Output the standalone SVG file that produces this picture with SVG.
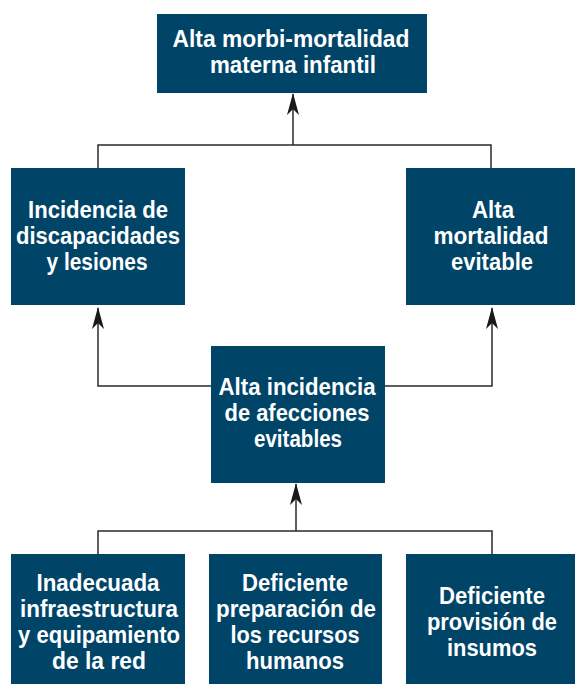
<svg xmlns="http://www.w3.org/2000/svg" width="575" height="684" viewBox="0 0 575 684">
<defs>
<marker id="ah" viewBox="0 0 22 12" refX="21" refY="6" markerWidth="22" markerHeight="12" markerUnits="userSpaceOnUse" orient="auto">
<path d="M0,0 L22,6 L0,12 L6,6 Z" fill="#1a1a1a"/>
</marker>
</defs>
<style>
.box{fill:#004468}
.t{fill:#fff;font-family:"Liberation Sans",Arial,sans-serif;font-weight:bold;font-size:23px;text-anchor:middle}
.c{fill:none;stroke:#2a2a2a;stroke-width:1.5}
</style>
<rect width="575" height="684" fill="#fff"/>
<g id="connectors">
<polyline class="c" points="98,168 98,145 491,145 491,168"/>
<line class="c" x1="293" y1="145" x2="293" y2="94" marker-end="url(#ah)"/>
<polyline class="c" points="211,386 98,386 98,308" marker-end="url(#ah)"/>
<polyline class="c" points="385,386 492,386 492,308" marker-end="url(#ah)"/>
<polyline class="c" points="98,554 98,531 492,531 492,554"/>
<line class="c" x1="296" y1="531" x2="296" y2="484" marker-end="url(#ah)"/>
</g>
<g id="n_top">
<rect class="box" x="157" y="14" width="270" height="79"/>
<text class="t" x="291" y="47" textLength="237" lengthAdjust="spacingAndGlyphs">Alta morbi-mortalidad</text>
<text class="t" x="293" y="73" textLength="166" lengthAdjust="spacingAndGlyphs">materna infantil</text>
</g>
<g id="n_left">
<rect class="box" x="11" y="168" width="174" height="137"/>
<text class="t" x="98" y="218" textLength="140" lengthAdjust="spacingAndGlyphs">Incidencia de</text>
<text class="t" x="98" y="244" textLength="164" lengthAdjust="spacingAndGlyphs">discapacidades</text>
<text class="t" x="97" y="270" textLength="101" lengthAdjust="spacingAndGlyphs">y lesiones</text>
</g>
<g id="n_right">
<rect class="box" x="406" y="168" width="169" height="137"/>
<text class="t" x="493" y="218" textLength="42" lengthAdjust="spacingAndGlyphs">Alta</text>
<text class="t" x="491" y="244" textLength="115" lengthAdjust="spacingAndGlyphs">mortalidad</text>
<text class="t" x="492" y="270" textLength="82" lengthAdjust="spacingAndGlyphs">evitable</text>
</g>
<g id="n_mid">
<rect class="box" x="211" y="346" width="174" height="137"/>
<text class="t" x="297" y="395" textLength="157" lengthAdjust="spacingAndGlyphs">Alta incidencia</text>
<text class="t" x="297" y="421" textLength="145" lengthAdjust="spacingAndGlyphs">de afecciones</text>
<text class="t" x="298" y="447" textLength="88" lengthAdjust="spacingAndGlyphs">evitables</text>
</g>
<g id="n_b1">
<rect class="box" x="11" y="554" width="174" height="130"/>
<text class="t" x="98" y="591" textLength="123" lengthAdjust="spacingAndGlyphs">Inadecuada</text>
<text class="t" x="99" y="617" textLength="158" lengthAdjust="spacingAndGlyphs">infraestructura</text>
<text class="t" x="99" y="643" textLength="162" lengthAdjust="spacingAndGlyphs">y equipamiento</text>
<text class="t" x="99" y="669" textLength="94" lengthAdjust="spacingAndGlyphs">de la red</text>
</g>
<g id="n_b2">
<rect class="box" x="209" y="554" width="173" height="130"/>
<text class="t" x="295" y="591" textLength="106" lengthAdjust="spacingAndGlyphs">Deficiente</text>
<text class="t" x="296" y="617" textLength="160" lengthAdjust="spacingAndGlyphs">preparación de</text>
<text class="t" x="295" y="643" textLength="129" lengthAdjust="spacingAndGlyphs">los recursos</text>
<text class="t" x="295" y="669" textLength="98" lengthAdjust="spacingAndGlyphs">humanos</text>
</g>
<g id="n_b3">
<rect class="box" x="406" y="554" width="169" height="130"/>
<text class="t" x="492" y="604" textLength="106" lengthAdjust="spacingAndGlyphs">Deficiente</text>
<text class="t" x="492" y="630" textLength="130" lengthAdjust="spacingAndGlyphs">provisión de</text>
<text class="t" x="492" y="656" textLength="90" lengthAdjust="spacingAndGlyphs">insumos</text>
</g>
</svg>
